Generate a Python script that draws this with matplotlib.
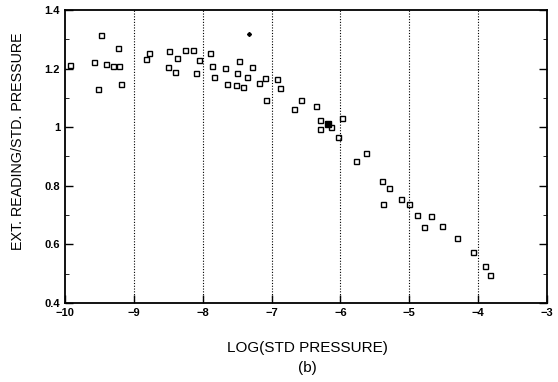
import numpy as np
import matplotlib
matplotlib.use("Agg")
import matplotlib.pyplot as plt
from matplotlib.ticker import MultipleLocator

# open square points (log std pressure, ext reading / std pressure)
log_p = [-9.93, -9.48, -9.58, -9.52, -9.40, -9.31, -9.21, -9.23, -9.18,
         -8.83, -8.78, -8.49, -8.50, -8.40, -8.37, -8.25, -8.14, -8.05, -8.10,
         -7.90, -7.87, -7.83, -7.68, -7.64, -7.51, -7.42, -7.50, -7.47, -7.36,
         -7.28, -7.18, -7.09, -7.08, -6.92, -6.87, -6.67, -6.57,
         -6.35, -6.29, -6.30, -6.13, -5.98, -6.04, -5.62, -5.77,
         -5.40, -5.29, -5.38, -5.12, -5.00, -4.88, -4.69, -4.78, -4.53,
         -4.30, -4.07, -3.90, -3.83]
ratio = [1.212, 1.315, 1.222, 1.130, 1.215, 1.209, 1.209, 1.271, 1.147,
         1.232, 1.254, 1.261, 1.204, 1.187, 1.237, 1.263, 1.263, 1.229, 1.186,
         1.254, 1.207, 1.172, 1.201, 1.147, 1.144, 1.136, 1.186, 1.226, 1.170,
         1.204, 1.152, 1.167, 1.093, 1.163, 1.133, 1.062, 1.091,
         1.073, 1.025, 0.993, 1.000, 1.032, 0.968, 0.913, 0.886,
         0.817, 0.791, 0.739, 0.753, 0.739, 0.701, 0.697, 0.660, 0.664,
         0.623, 0.574, 0.526, 0.496]

# overlapping (filled) point and the small stray mark
filled_x = [-6.18]
filled_y = [1.011]
dot_x = [-7.32]
dot_y = [1.317]

x_ticks = [-10, -9, -8, -7, -6, -5, -4, -3]
y_ticks = [0.4, 0.6, 0.8, 1.0, 1.2, 1.4]
y_labels = ['0.4', '0.6', '0.8', '1', '1.2', '1.4']

plt.rcParams['font.family'] = ['Liberation Sans', 'DejaVu Sans']

fig = plt.figure(figsize=(5.58, 3.82), dpi=100)
ax = fig.add_axes([0.1165, 0.207, 0.8635, 0.767])

ax.plot(log_p, ratio, linestyle='none', marker='s', markersize=3.6,
        markerfacecolor='white', markeredgecolor='black', markeredgewidth=1.0)
ax.plot(filled_x, filled_y, linestyle='none', marker='s', markersize=4,
        color='black')
ax.plot(dot_x, dot_y, linestyle='none', marker='D', markersize=2,
        color='black')

ax.set_xlim(-10, -3)
ax.set_ylim(0.4, 1.4)
ax.set_xticks(x_ticks)
ax.set_yticks(y_ticks)
ax.set_yticklabels(y_labels)
ax.yaxis.set_minor_locator(MultipleLocator(0.1))

for xv in x_ticks[1:-1]:
    ax.axvline(xv, color='black', linestyle=(0, (1, 1.5)), linewidth=0.8)

ax.tick_params(axis='both', which='major', direction='in', length=6,
               width=1, labelsize=8, right=True)
ax.tick_params(axis='y', which='minor', direction='in', length=3, right=True)
for lab in ax.get_xticklabels() + ax.get_yticklabels():
    lab.set_fontweight('bold')
for sp in ax.spines.values():
    sp.set_linewidth(1.3)

# axis titles placed as in the scanned figure
fig.text(0.032, 0.631, 'EXT. READING/STD. PRESSURE', fontsize=10.3,
         rotation=90, ha='center', va='center')
fig.text(0.551, 0.089, 'LOG(STD PRESSURE)', fontsize=11,
         ha='center', va='center')
fig.text(0.551, 0.037, '(b)', fontsize=11, ha='center', va='center')

fig.savefig('out.png', dpi=100)
